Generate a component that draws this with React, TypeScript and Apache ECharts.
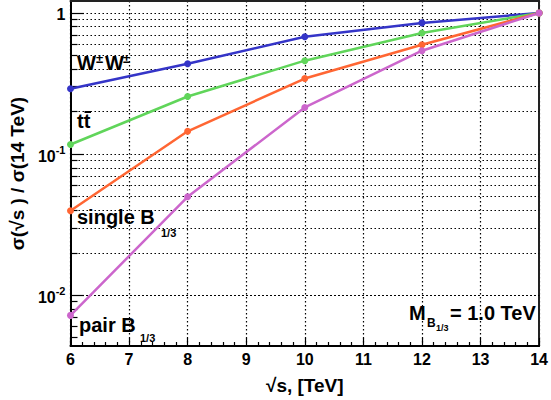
import React, { useEffect, useRef } from "react";
import * as echarts from "echarts";

const sqrtS = [6, 8, 10, 12, 14];
const wwValues = [0.29, 0.437, 0.678, 0.85, 1.0];
const ttValues = [0.117, 0.256, 0.459, 0.72, 1.0];
const singleValues = [0.0397, 0.145, 0.343, 0.595, 1.0];
const pairValues = [0.0072, 0.0498, 0.214, 0.54, 1.0];

const yGridValues = [
  0.005, 0.006, 0.007, 0.008, 0.009, 0.01,
  0.02, 0.03, 0.04, 0.05, 0.06, 0.07, 0.08, 0.09, 0.1,
  0.2, 0.3, 0.4, 0.5, 0.6, 0.7, 0.8, 0.9, 1,
];
const yMajor = [0.01, 0.1, 1];
const yLabelMap: Record<string, string> = {
  "1": "{b|1}",
  "0.1": "{b|10}{s|-1}",
  "0.01": "{b|10}{s|-2}",
};

const FONT = "'Liberation Sans', Arial, Helvetica, sans-serif";

function mk(series: number[]) {
  return series.map((v, i) => [sqrtS[i], v]);
}

export default function App() {
  const ref = useRef<HTMLDivElement>(null);
  useEffect(() => {
    if (!ref.current) return;
    document.body.style.margin = "0";
    const chart = echarts.init(ref.current, undefined, { renderer: "svg" });
    const lineSeries = (name: string, data: number[], color: string) => ({
      name,
      type: "line",
      data: mk(data),
      symbol: "circle",
      symbolSize: 7,
      lineStyle: { color, width: 2.5 },
      itemStyle: { color },
      z: 5,
    });
    const txt = (text: string, x: number, y: number, size: number) => ({
      type: "text",
      x,
      y,
      z: 20,
      style: {
        text,
        fill: "#000",
        font: `bold ${size}px ${FONT}`,
        align: "left",
        verticalAlign: "middle",
      },
    });
    chart.setOption({
      animation: false,
      backgroundColor: "#fff",
      grid: { left: 68, right: 3, top: 1, bottom: 52 },
      xAxis: [
        {
          type: "value",
          min: 6,
          max: 14,
          interval: 1,
          name: "√s, [TeV]",
          nameLocation: "middle",
          nameGap: 30,
          nameTextStyle: { fontFamily: FONT, fontWeight: "bold", fontSize: 19, color: "#000" },
          axisLine: { lineStyle: { color: "#000", width: 2 } },
          axisTick: { show: true, inside: true, length: 8, lineStyle: { color: "#000", width: 1.2 } },
          minorTick: { show: true, splitNumber: 5, length: 4, lineStyle: { color: "#000", width: 1.2 } },
          splitLine: { show: true, lineStyle: { color: "#000", type: [1.5, 2.5], width: 1.2 } },
          axisLabel: { fontFamily: FONT, fontWeight: "bold", fontSize: 16, color: "#000", margin: 5 },
        },
        {
          type: "value",
          position: "top",
          min: 6,
          max: 14,
          interval: 1,
          axisLine: { show: true, lineStyle: { color: "#222", width: 2 } },
          axisTick: { show: false },
          axisLabel: { show: false },
          splitLine: { show: false },
        },
      ],
      yAxis: [
        {
          type: "log",
          logBase: 10,
          min: 0.00437,
          max: 1.215,
          name: "σ(√s ) / σ(14 TeV)",
          nameLocation: "middle",
          nameGap: 40,
          nameTextStyle: { fontFamily: FONT, fontWeight: "bold", fontSize: 19, color: "#000" },
          axisLine: { show: true, lineStyle: { color: "#000", width: 2 } },
          axisTick: { show: false },
          splitLine: { show: false },
          axisLabel: {
            margin: 5,
            formatter: (v: number) => {
              for (const m of yMajor) {
                if (Math.abs(v - m) / m < 1e-6) return yLabelMap[String(m)];
              }
              return "";
            },
            rich: {
              b: { fontFamily: FONT, fontWeight: "bold", fontSize: 16, color: "#000", lineHeight: 20, verticalAlign: "bottom" },
              s: { fontFamily: FONT, fontWeight: "bold", fontSize: 11, color: "#000", verticalAlign: "top" },
            },
          },
        },
        {
          type: "log",
          logBase: 10,
          position: "right",
          min: 0.00437,
          max: 1.215,
          axisLine: { show: true, lineStyle: { color: "#222", width: 2 } },
          axisTick: { show: false },
          axisLabel: { show: false },
          splitLine: { show: false },
        },
      ],
      series: [
        {
          type: "line",
          data: mk(wwValues),
          showSymbol: false,
          lineStyle: { opacity: 0 },
          z: 1,
          silent: true,
          markLine: {
            silent: true,
            symbol: "none",
            label: { show: false },
            lineStyle: { color: "#000", type: [1.5, 2.5], width: 1.2 },
            data: yGridValues.map((v) => ({ yAxis: v })),
          },
        },
        {
          type: "line",
          data: mk(wwValues),
          showSymbol: false,
          lineStyle: { opacity: 0 },
          z: 2,
          silent: true,
          markLine: {
            silent: true,
            symbol: "none",
            label: { show: false },
            lineStyle: { color: "#000", type: "solid", width: 1.2 },
            data: yGridValues.map((v) => [
              { coord: [6, v] },
              { coord: [yMajor.some((m) => Math.abs(v - m) / m < 1e-6) ? 6.23 : 6.12, v] },
            ]),
          },
        },
        lineSeries("WW", wwValues, "#3535c8"),
        lineSeries("tt", ttValues, "#60d55a"),
        lineSeries("single", singleValues, "#ff6633"),
        lineSeries("pair", pairValues, "#cc66cc"),
      ],
      graphic: [
        txt("W", 77, 63, 20),
        txt("±", 96, 58, 13),
        txt("W", 105, 63, 20),
        txt("±", 123, 58, 13),
        txt("tt", 77, 121, 20),
        {
          type: "line",
          z: 20,
          shape: { x1: 84.5, y1: 112, x2: 91, y2: 112 },
          style: { stroke: "#000", lineWidth: 2 },
        },
        txt("single B", 77, 217, 20),
        txt("1/3", 161, 233, 11),
        txt("pair B", 79, 324.5, 20),
        txt("1/3", 140, 338, 11),
        txt("M", 409, 313, 20),
        txt("B", 427, 322.5, 12),
        txt("1/3", 436, 328, 9),
        txt("= 1.0 TeV", 450, 313, 20),
      ],
    });
    return () => chart.dispose();
  }, []);
  return <div ref={ref} style={{ width: 551, height: 400 }} />;
}
